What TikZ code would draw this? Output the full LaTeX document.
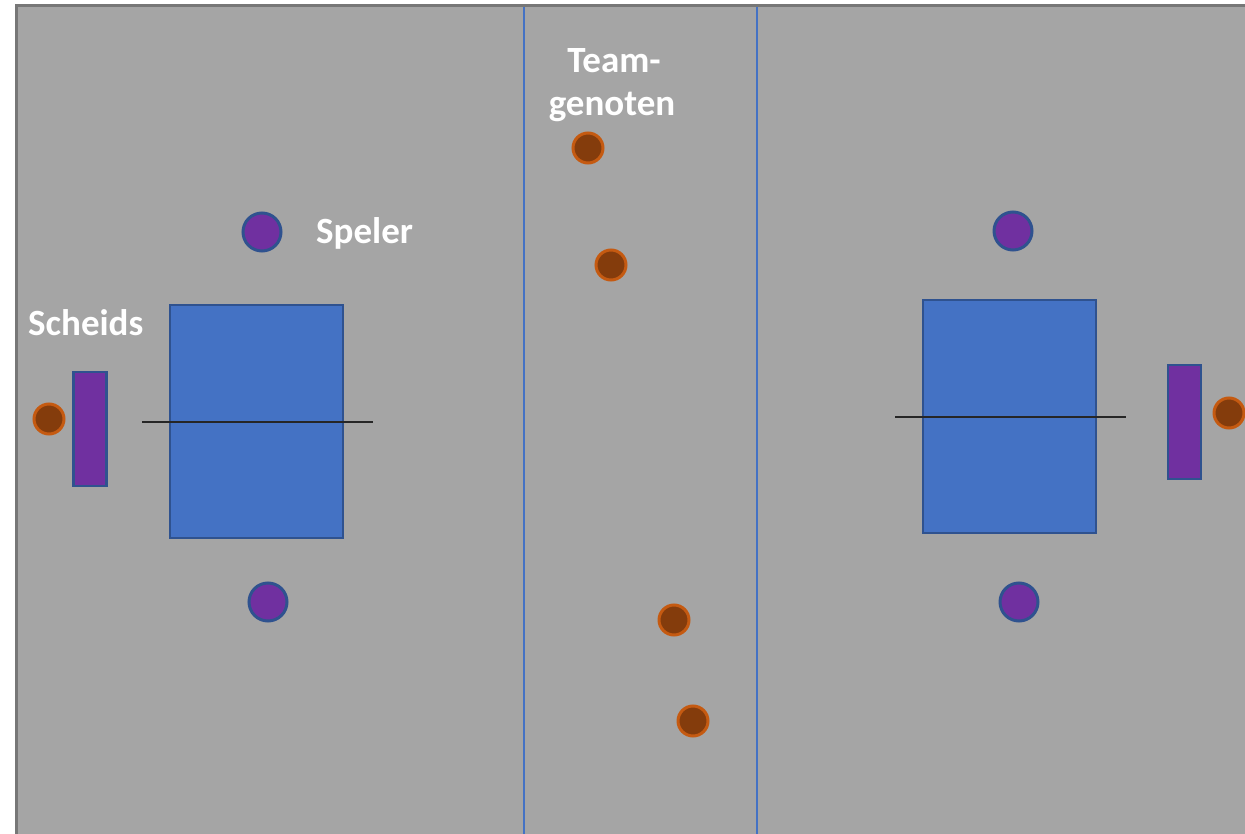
\documentclass[tikz,border=0pt]{standalone}
\usepackage{fontspec}
\setmainfont{Carlito}
\usepackage{tikz}
\definecolor{veld}{HTML}{A5A5A5}
\definecolor{veldrand}{HTML}{777777}
\definecolor{lijn}{HTML}{4472C4}
\definecolor{tafelblauw}{HTML}{4472C4}
\definecolor{blauwrand}{HTML}{2F528F}
\definecolor{paars}{HTML}{7030A0}
\definecolor{bruin}{HTML}{843C0C}
\definecolor{oranjerand}{HTML}{C55A11}
\definecolor{net}{HTML}{262626}

\begin{document}
\begin{tikzpicture}[x=1pt,y=-1pt]
	\tikzstyle{every node}=[inner sep=0pt];
	\tikzstyle{speler}=[draw=blauwrand,fill=paars,shape=circle,line width=3pt,minimum size=38pt];
	\tikzstyle{teamgenoot}=[draw=oranjerand,fill=bruin,shape=circle,line width=3pt,minimum size=30pt];
	\tikzstyle{tafel}=[draw=blauwrand,fill=tafelblauw,shape=rectangle,line width=2.5pt];
	\tikzstyle{scheids}=[draw=blauwrand,fill=paars,shape=rectangle,line width=2.5pt,minimum width=33pt,minimum height=114pt];
	\tikzstyle{tekst}=[text=white,font=\fontsize{37}{42}\selectfont\bfseries,anchor=base west];
	\useasboundingbox (0,0) rectangle (1245,834);
	\fill[white] (0,0) rectangle (1245,834);
	\begin{scope}
		\clip (0,0) rectangle (1245,834);
		\draw[draw=veldrand,fill=veld,line width=3pt] (16,6) rectangle (1260,850);
	\end{scope}
	% zones
	\coordinate (z0a) at (524,7);
	\coordinate (z0b) at (524,834);
	\coordinate (z1a) at (757,7);
	\coordinate (z1b) at (757,834);
	\draw[lijn,line width=1.5pt] (z0a) -- (z0b)
	(z1a) -- (z1b);
	% tafels
	\node[tafel,minimum width=173pt,minimum height=233pt] (t0) at (256.5,421.5) {};
	\node[tafel,minimum width=173pt,minimum height=233pt] (t1) at (1009.5,416.5) {};
	\coordinate (n0a) at (142,422);
	\coordinate (n0b) at (373,422);
	\coordinate (n1a) at (895,417);
	\coordinate (n1b) at (1126,417);
	\draw[net,line width=2pt] (n0a) -- (n0b)
	(n1a) -- (n1b);
	% scheidsrechters
	\node[scheids] (s0) at (90,429) {};
	\node[scheids] (s1) at (1184.5,422) {};
	\node[teamgenoot] (r0) at (49,419) {};
	\node[teamgenoot] (r1) at (1229,413) {};
	% spelers
	\node[speler] (p0) at (262,232) {};
	\node[speler] (p1) at (268,602) {};
	\node[speler] (p2) at (1013,231) {};
	\node[speler] (p3) at (1019,602) {};
	% teamgenoten
	\node[teamgenoot] (g0) at (588,148) {};
	\node[teamgenoot] (g1) at (611,265) {};
	\node[teamgenoot] (g2) at (674,620) {};
	\node[teamgenoot] (g3) at (693,721) {};
	% teksten
	\node[tekst] (l0) at (28,335) {Scheids};
	\node[tekst] (l1) at (316,244) {Speler};
	\node[tekst,anchor=base] (l2) at (614,73) {Team-};
	\node[tekst,anchor=base] (l3) at (612,116) {genoten};
\end{tikzpicture}
\end{document}
